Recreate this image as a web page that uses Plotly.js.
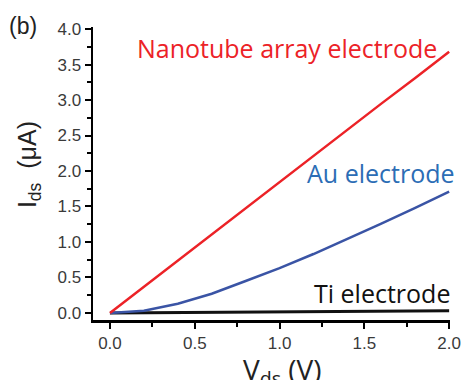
<!DOCTYPE html>
<html><head><meta charset="utf-8">
<script src="https://cdn.plot.ly/plotly-3.0.1.min.js"></script>
<style>body{margin:0;padding:0;background:#fff}#plot{width:464px;height:380px}</style>
</head><body><div id="plot"></div>
<script>
const vds = [0, 0.2, 0.4, 0.6, 0.8, 1.0, 1.2, 1.4, 1.6, 1.8, 2.0];
const iNanotube = [0, 0.37, 0.74, 1.10, 1.47, 1.84, 2.21, 2.58, 2.95, 3.31, 3.68];
const iAu = [0, 0.03, 0.13, 0.27, 0.45, 0.63, 0.83, 1.04, 1.26, 1.48, 1.71];
const iTi = [0, 0.003, 0.006, 0.009, 0.012, 0.015, 0.018, 0.021, 0.024, 0.027, 0.03];
const labels = ["Nanotube array electrode", "Au electrode", "Ti electrode"];
const xTicks = [0, 0.5, 1.0, 1.5, 2.0];
const xTickText = ['0.0','0.5','1.0','1.5','2.0'];
const yTicks = [0, 0.5, 1, 1.5, 2, 2.5, 3, 3.5, 4];
const yTickText = ['0.0','0.5','1.0','1.5','2.0','2.5','3.0','3.5','4.0'];

const traces = [
  {x: vds, y: iTi, mode: 'lines', line: {color: '#111111', width: 3}},
  {x: vds, y: iAu, mode: 'lines', line: {color: '#3a54a5', width: 2.5}},
  {x: vds, y: iNanotube, mode: 'lines', line: {color: '#ec2227', width: 2.5}}
];
const annFont = 'Open Sans, Noto Sans, sans-serif';
const tickFont = {family: 'Liberation Sans, Arial, sans-serif', size: 17, color: '#3a3a3a'};
const layout = {
  width: 464, height: 380,
  margin: {l: 93, r: 14, t: 27, b: 60},
  showlegend: false,
  paper_bgcolor: '#fff', plot_bgcolor: '#fff',
  xaxis: {
    range: [-0.1, 2.005], showgrid: false, zeroline: false,
    showline: true, linecolor: '#000', linewidth: 2.5,
    ticks: 'outside', ticklen: 6, tickwidth: 2, tickcolor: '#000',
    tickvals: xTicks, ticktext: xTickText, tickfont: tickFont,
    minor: {dtick: 0.25, ticks: 'outside', ticklen: 4, tickwidth: 2, tickcolor: '#000'}
  },
  yaxis: {
    range: [-0.1, 4.03], showgrid: false, zeroline: false,
    showline: true, linecolor: '#000', linewidth: 2.5,
    ticks: 'outside', ticklen: 6, tickwidth: 2, tickcolor: '#000',
    tickvals: yTicks, ticktext: yTickText, tickfont: tickFont,
    minor: {dtick: 0.25, ticks: 'outside', ticklen: 4, tickwidth: 2, tickcolor: '#000'}
  },
  annotations: [
    {text: labels[0], xref: 'paper', yref: 'paper', x: 0.543, y: 0.928, xanchor: 'center', yanchor: 'middle', showarrow: false,
     font: {family: annFont, size: 25, color: '#ec2227'}},
    {text: labels[1], xref: 'paper', yref: 'paper', x: 1.02, y: 0.502, xanchor: 'right', yanchor: 'middle', showarrow: false,
     font: {family: annFont, size: 25, color: '#2c6db5'}},
    {text: labels[2], xref: 'paper', yref: 'paper', x: 1.006, y: 0.092, xanchor: 'right', yanchor: 'middle', showarrow: false,
     font: {family: annFont, size: 25, color: '#111'}},
    {text: '(b)', xref: 'paper', yref: 'paper', x: -0.241, y: 1.003, xanchor: 'left', yanchor: 'middle', showarrow: false,
     font: {family: 'Liberation Sans, Arial, sans-serif', size: 23, color: '#222'}},
    {text: 'I<sub>ds</sub>  (μA)', xref: 'paper', yref: 'paper', x: -0.179, y: 0.529, textangle: -90, xanchor: 'center', yanchor: 'middle', showarrow: false,
     font: {family: 'Liberation Sans, Arial, sans-serif', size: 25, color: '#222'}},
    {text: 'V<sub>ds</sub> (V)', xref: 'paper', yref: 'paper', x: 0.53, y: -0.095, xanchor: 'center', yanchor: 'top', showarrow: false,
     font: {family: annFont, size: 28, color: '#222'}}
  ]
};
Plotly.newPlot('plot', traces, layout, {staticPlot: true, displayModeBar: false});
</script></body></html>
